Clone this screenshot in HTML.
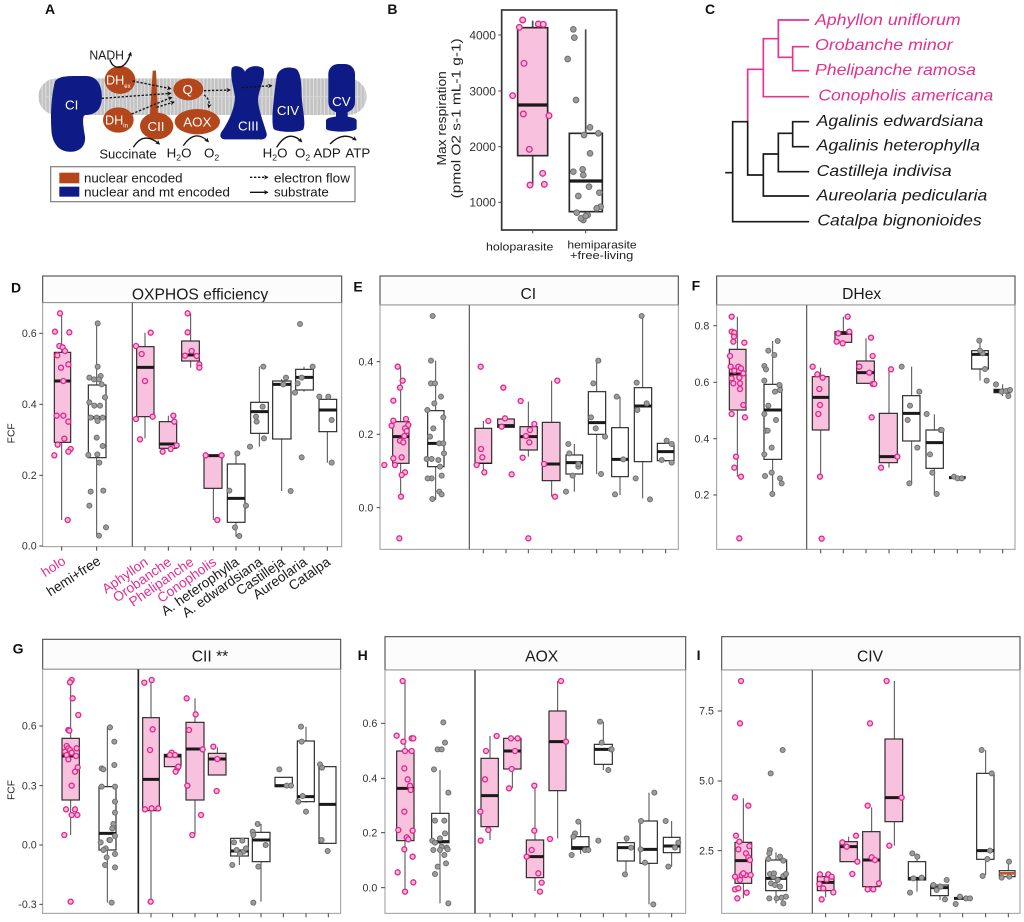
<!DOCTYPE html>
<html><head><meta charset="utf-8">
<style>
html,body{margin:0;padding:0;background:#fff;}
svg{display:block;}
text{font-family:"Liberation Sans",Arial,sans-serif;}
.wh{stroke:#4a4a4a;stroke-width:3;}
.bp{fill:#f8c1dd;stroke:#2a2a2a;stroke-width:3.5;}
.bw{fill:#fff;stroke:#2a2a2a;stroke-width:3.5;}
.md{stroke:#1a1a1a;stroke-width:9;}
.p{fill:#f7b9da;stroke:#e3268d;stroke-width:4;}
.g{fill:#9b9b9b;stroke:#6e6e6e;stroke-width:3;}
.yl{font-size:32px;fill:#333;text-anchor:end;}
.st{fill:#fcfcfc;stroke:#555;stroke-width:3.5;}
.pf{fill:#fff;stroke:#9a9a9a;stroke-width:3;}
.dv{stroke:#555;stroke-width:3.5;}
.tk{stroke:#444;stroke-width:3;}
.ttl{font-size:47px;fill:#1a1a1a;text-anchor:middle;}
.lt{font-size:42px;font-weight:bold;fill:#111;}
.xl{font-size:41px;text-anchor:end;fill:#1a1a1a;}
.pk{fill:#e2308f;}
.wt{fill:#fff;font-size:40px;text-anchor:middle;}
.at{font-size:40px;fill:#1a1a1a;}
.tp{stroke:#e8338f;stroke-width:5;fill:none;stroke-linecap:square;}
.tb{stroke:#1a1a1a;stroke-width:5;fill:none;stroke-linecap:square;}
.sp{font-size:48px;font-style:italic;}
</style></head>
<body>
<svg width="1024" height="922" viewBox="0 0 1024 922" xmlns="http://www.w3.org/2000/svg">
<defs>
<pattern id="mem" width="11" height="20" patternUnits="userSpaceOnUse">
<rect width="11" height="20" fill="#c3c3c3"/>
<line x1="5.5" y1="0" x2="5.5" y2="20" stroke="#e4e4e4" stroke-width="2.5"/>
</pattern>
<marker id="ah" viewBox="0 0 10 10" refX="8" refY="5" markerWidth="3.5" markerHeight="3.5" orient="auto"><path d="M0,0 L10,5 L0,10 L3,5 z" fill="#111"/></marker>
</defs>

<!-- ============ PANEL A ============ -->
<g transform="translate(0,0) scale(0.33333)">
<text class="lt" x="135" y="42">A</text>
<rect x="115" y="235" width="985" height="110" rx="55" fill="url(#mem)"/>
<line x1="140" y1="290" x2="1080" y2="290" stroke="#d6d6d6" stroke-width="3"/>
<path d="M165 245 C175 225,215 228,260 228 C300 230,308 270,305 300 C302 335,280 345,255 345 C245 350,250 380,255 410 C258 445,230 458,205 455 C175 452,160 430,155 400 C150 350,155 280,165 245 Z" fill="#0e1b87"/>
<text class="wt" x="215" y="328">CI</text>
<ellipse cx="360" cy="240" rx="46" ry="42" fill="#b3471b"/>
<text x="318" y="254" fill="#fff" font-size="38">DH<tspan font-size="18" dy="10">ex</tspan></text>
<ellipse cx="355" cy="360" rx="46" ry="38" fill="#b3471b"/>
<text x="315" y="373" fill="#fff" font-size="38">DH<tspan font-size="18" dy="10">in</tspan></text>
<path d="M458 212 L468 212 L474 345 L450 345 Z" fill="#b3471b"/>
<ellipse cx="470" cy="378" rx="50" ry="40" fill="#b3471b"/>
<text class="wt" x="468" y="393" font-size="36">CII</text>
<ellipse cx="565" cy="268" rx="45" ry="33" fill="#b3471b"/>
<text class="wt" x="563" y="282">Q</text>
<ellipse cx="592" cy="365" rx="68" ry="38" fill="#b3471b"/>
<text class="wt" x="592" y="379" font-size="38">AOX</text>
<path d="M695 205 C700 195,725 195,735 215 C742 200,770 192,790 205 C798 230,780 260,775 290 C772 320,785 350,800 400 C802 415,790 420,780 418 L675 418 C660 418,658 405,665 395 C690 360,705 320,705 290 C700 260,690 230,695 205 Z" fill="#0e1b87"/>
<text class="wt" x="745" y="392" font-size="38">CIII</text>
<path d="M830 230 C835 205,860 198,885 205 C900 210,905 240,905 290 C908 330,918 370,910 388 C900 398,840 398,822 388 C812 375,820 300,830 230 Z" fill="#0e1b87"/>
<text class="wt" x="864" y="345" font-size="38">CIV</text>
<rect x="985" y="192" width="80" height="145" rx="30" fill="#0e1b87"/>
<rect x="1008" y="330" width="35" height="25" fill="#0e1b87"/>
<path d="M978 362 C978 345,1070 345,1070 362 L1070 385 C1070 398,978 398,978 385 Z" fill="#0e1b87"/>
<text class="wt" x="1024" y="318" font-size="38">CV</text>
<g stroke="#111" stroke-width="4" stroke-dasharray="7 5" fill="none" marker-end="url(#ah)">
<path d="M398 243 L512 266"/>
<path d="M305 295 L512 280"/>
<path d="M395 342 L515 292"/>
<path d="M470 322 L522 306"/>
<path d="M612 272 L690 270"/>
<path d="M612 285 Q632 298 626 322"/>
<path d="M725 263 L815 257"/>
</g>
<g stroke="#111" stroke-width="4" fill="none" marker-end="url(#ah)">
<path d="M330 180 C340 212,378 212,392 158"/>
<path d="M400 442 Q430 392 478 432"/>
<path d="M550 437 Q585 385 625 425"/>
<path d="M830 442 Q865 385 905 425"/>
<path d="M990 432 Q1030 392 1068 420"/>
</g>
<text class="at" x="268" y="178" textLength="104" lengthAdjust="spacingAndGlyphs">NADH</text>
<text class="at" x="298" y="475" textLength="172" lengthAdjust="spacingAndGlyphs">Succinate</text>
<text class="at" x="500" y="472">H<tspan font-size="26" dy="10">2</tspan><tspan dy="-10">O</tspan></text>
<text class="at" x="612" y="472">O<tspan font-size="26" dy="10">2</tspan></text>
<text class="at" x="788" y="472">H<tspan font-size="26" dy="10">2</tspan><tspan dy="-10">O</tspan></text>
<text class="at" x="885" y="472">O<tspan font-size="26" dy="10">2</tspan></text>
<text class="at" x="940" y="472">ADP</text>
<text class="at" x="1036" y="472">ATP</text>
<rect x="152" y="500" width="913" height="105" fill="#fff" stroke="#8a8a8a" stroke-width="4"/>
<rect x="178" y="518" width="60" height="32" fill="#b3471b"/>
<rect x="178" y="560" width="60" height="30" fill="#0e1b87"/>
<text class="at" x="252" y="547">nuclear encoded</text>
<text class="at" x="252" y="590" textLength="438" lengthAdjust="spacingAndGlyphs">nuclear and mt encoded</text>
<line x1="750" y1="532" x2="803" y2="532" stroke="#111" stroke-width="4" stroke-dasharray="7 5" marker-end="url(#ah)"/>
<line x1="750" y1="577" x2="803" y2="577" stroke="#111" stroke-width="4" marker-end="url(#ah)"/>
<text class="at" x="822" y="547" textLength="228" lengthAdjust="spacingAndGlyphs">electron flow</text>
<text class="at" x="822" y="590">substrate</text>
</g>

<!-- ============ PANEL B ============ -->
<g transform="translate(360,0) scale(0.33333)">
<text class="lt" x="82" y="42">B</text>
<rect x="425" y="30" width="345" height="660" fill="#fff" stroke="#333" stroke-width="5"/>
<g class="tk"><line x1="415" y1="105" x2="425" y2="105"/><line x1="415" y1="273" x2="425" y2="273"/><line x1="415" y1="440" x2="425" y2="440"/><line x1="415" y1="607" x2="425" y2="607"/><line x1="518" y1="690" x2="518" y2="700"/><line x1="677" y1="690" x2="677" y2="700"/></g>
<g class="yl" style="font-size:36px"><text x="408" y="118">4000</text><text x="408" y="286">3000</text><text x="408" y="453">2000</text><text x="408" y="620">1000</text></g>
<text transform="translate(258,355) rotate(-90)" text-anchor="middle" font-size="40" fill="#222" textLength="283" lengthAdjust="spacingAndGlyphs">Max respiration</text>
<text transform="translate(302,355) rotate(-90)" text-anchor="middle" font-size="40" fill="#222" textLength="480" lengthAdjust="spacingAndGlyphs">(pmol O2 s-1 mL-1 g-1)</text>
<text x="378" y="752" font-size="34" fill="#222" textLength="202" lengthAdjust="spacingAndGlyphs">holoparasite</text>
<text x="622" y="745" font-size="34" fill="#222" textLength="208" lengthAdjust="spacingAndGlyphs">hemiparasite</text>
<text x="630" y="777" font-size="34" fill="#222" textLength="190" lengthAdjust="spacingAndGlyphs">+free-living</text>
<line class="wh" x1="518" y1="62" x2="518" y2="555" style="stroke-width:5"/>
<rect class="bp" x="473" y="83" width="90" height="384" style="stroke-width:5"/>
<line class="md" x1="473" y1="315" x2="563" y2="315" style="stroke-width:10"/>
<line class="wh" x1="677" y1="88" x2="677" y2="640" style="stroke-width:5"/>
<rect class="bw" x="628" y="400" width="99" height="235" style="stroke-width:5"/>
<line class="md" x1="628" y1="543" x2="727" y2="543" style="stroke-width:10"/>
<g class="p">
<circle cx="488" cy="60" r="8.5"/><circle cx="478" cy="82" r="8.5"/><circle cx="535" cy="72" r="8.5"/><circle cx="550" cy="73" r="8.5"/><circle cx="492" cy="190" r="8.5"/><circle cx="458" cy="287" r="8.5"/><circle cx="490" cy="342" r="8.5"/><circle cx="567" cy="347" r="8.5"/><circle cx="508" cy="448" r="8.5"/><circle cx="548" cy="520" r="8.5"/><circle cx="510" cy="555" r="8.5"/><circle cx="553" cy="553" r="8.5"/>
</g>
<g class="g">
<circle cx="640" cy="88" r="8.5"/><circle cx="643" cy="113" r="8.5"/><circle cx="623" cy="177" r="8.5"/><circle cx="648" cy="300" r="8.5"/><circle cx="690" cy="382" r="8.5"/><circle cx="672" cy="405" r="8.5"/><circle cx="715" cy="400" r="8.5"/><circle cx="690" cy="460" r="8.5"/><circle cx="640" cy="515" r="8.5"/><circle cx="668" cy="508" r="8.5"/><circle cx="670" cy="525" r="8.5"/><circle cx="655" cy="588" r="8.5"/><circle cx="687" cy="560" r="8.5"/><circle cx="718" cy="578" r="8.5"/><circle cx="722" cy="620" r="8.5"/><circle cx="710" cy="625" r="8.5"/><circle cx="650" cy="638" r="8.5"/><circle cx="683" cy="645" r="8.5"/><circle cx="670" cy="660" r="8.5"/><circle cx="663" cy="655" r="8.5"/><circle cx="677" cy="648" r="8.5"/>
</g>
</g>

<!-- ============ PANEL C ============ -->
<g transform="translate(700,0) scale(0.33333)">
<text class="lt" x="15" y="42">C</text>
<path class="tp" d="M235,60 H325 M235,60 V172 M235,172 H278 M278,140 V212 M278,140 H325 M278,212 H325 M190,116 H235 M190,116 V290 M190,290 H325 M143,208 H190 M143,208 V365"/>
<path class="tb" d="M98,365 H143 M143,365 V525 M143,525 H190 M190,462 V588 M190,588 H325 M190,462 H235 M235,400 V515 M235,515 H325 M235,400 H278 M278,365 V440 M278,365 H325 M278,440 H325 M98,365 V665 M98,665 H325 M78,518 H98"/>
<g class="sp">
<text x="345" y="75" fill="#e2308f" textLength="437" lengthAdjust="spacingAndGlyphs">Aphyllon uniflorum</text>
<text x="345" y="150" fill="#e2308f" textLength="413" lengthAdjust="spacingAndGlyphs">Orobanche minor</text>
<text x="345" y="225" fill="#e2308f" textLength="483" lengthAdjust="spacingAndGlyphs">Phelipanche ramosa</text>
<text x="355" y="302" fill="#e2308f" textLength="525" lengthAdjust="spacingAndGlyphs">Conopholis americana</text>
<text x="350" y="378" fill="#1a1a1a" textLength="500" lengthAdjust="spacingAndGlyphs">Agalinis edwardsiana</text>
<text x="350" y="452" fill="#1a1a1a" textLength="490" lengthAdjust="spacingAndGlyphs">Agalinis heterophylla</text>
<text x="350" y="528" fill="#1a1a1a" textLength="405" lengthAdjust="spacingAndGlyphs">Castilleja indivisa</text>
<text x="350" y="602" fill="#1a1a1a" textLength="512" lengthAdjust="spacingAndGlyphs">Aureolaria pedicularia</text>
<text x="352" y="677" fill="#1a1a1a" textLength="493" lengthAdjust="spacingAndGlyphs">Catalpa bignonioides</text>
</g>
</g>

<!-- ============ PANEL D ============ -->
<g transform="translate(0,270) scale(0.33333)">
<text class="lt" x="33" y="68">D</text>
<rect class="st" x="128" y="18" width="897" height="80"/>
<text class="ttl" x="600" y="88">OXPHOS efficiency</text>
<rect class="pf" x="128" y="98" width="897" height="732"/>
<line class="dv" x1="397" y1="98" x2="397" y2="830"/>
<g class="tk"><line x1="118" y1="828" x2="128" y2="828"/><line x1="118" y1="616" x2="128" y2="616"/><line x1="118" y1="403" x2="128" y2="403"/><line x1="118" y1="190" x2="128" y2="190"/>
<line x1="185" y1="830" x2="185" y2="842"/><line x1="290" y1="830" x2="290" y2="842"/><line x1="435" y1="830" x2="435" y2="842"/><line x1="505" y1="830" x2="505" y2="842"/><line x1="572" y1="830" x2="572" y2="842"/><line x1="640" y1="830" x2="640" y2="842"/><line x1="708" y1="830" x2="708" y2="842"/><line x1="778" y1="830" x2="778" y2="842"/><line x1="845" y1="830" x2="845" y2="842"/><line x1="912" y1="830" x2="912" y2="842"/><line x1="982" y1="830" x2="982" y2="842"/></g>
<g class="yl"><text x="110" y="839">0.0</text><text x="110" y="627">0.2</text><text x="110" y="414">0.4</text><text x="110" y="201">0.6</text></g>
<text transform="translate(43,490) rotate(-90)" text-anchor="middle" font-size="31" fill="#222">FCF</text>
<line class="wh" x1="185" y1="130" x2="185" y2="750"/><rect class="bp" x="163" y="247" width="49" height="270"/><line class="md" x1="163" y1="333" x2="212" y2="333"/>
<line class="wh" x1="290" y1="160" x2="290" y2="797"/><rect class="bw" x="265" y="345" width="53" height="218"/><line class="md" x1="265" y1="443" x2="318" y2="443"/>
<line class="wh" x1="435" y1="188" x2="435" y2="505"/><rect class="bp" x="410" y="230" width="52" height="210"/><line class="md" x1="410" y1="292" x2="462" y2="292"/>
<line class="wh" x1="505" y1="437" x2="505" y2="537"/><rect class="bp" x="478" y="455" width="52" height="80"/><line class="md" x1="478" y1="522" x2="530" y2="522"/>
<line class="wh" x1="572" y1="130" x2="572" y2="293"/><rect class="bp" x="545" y="213" width="53" height="60"/><line class="md" x1="545" y1="255" x2="598" y2="255"/>
<line class="wh" x1="640" y1="556" x2="640" y2="750"/><rect class="bp" x="612" y="556" width="54" height="99"/><line class="md" x1="612" y1="557" x2="666" y2="557"/>
<line class="wh" x1="708" y1="548" x2="708" y2="800"/><rect class="bw" x="682" y="582" width="53" height="175"/><line class="md" x1="682" y1="685" x2="735" y2="685"/>
<line class="wh" x1="778" y1="290" x2="778" y2="530"/><rect class="bw" x="752" y="397" width="53" height="93"/><line class="md" x1="752" y1="425" x2="805" y2="425"/>
<line class="wh" x1="845" y1="327" x2="845" y2="663"/><rect class="bw" x="818" y="333" width="55" height="174"/><line class="md" x1="818" y1="343" x2="873" y2="343"/>
<line class="wh" x1="912" y1="290" x2="912" y2="365"/><rect class="bw" x="887" y="298" width="53" height="62"/><line class="md" x1="887" y1="322" x2="940" y2="322"/>
<line class="wh" x1="982" y1="380" x2="982" y2="578"/><rect class="bw" x="957" y="388" width="53" height="97"/><line class="md" x1="957" y1="420" x2="1010" y2="420"/>
<g class="p">
<circle cx="180" cy="130" r="7.5"/><circle cx="165" cy="185" r="7.5"/><circle cx="208" cy="187" r="7.5"/><circle cx="178" cy="228" r="7.5"/><circle cx="188" cy="232" r="7.5"/><circle cx="195" cy="243" r="7.5"/><circle cx="172" cy="256" r="7.5"/><circle cx="205" cy="283" r="7.5"/><circle cx="183" cy="293" r="7.5"/><circle cx="190" cy="333" r="7.5"/><circle cx="170" cy="437" r="7.5"/><circle cx="190" cy="437" r="7.5"/><circle cx="205" cy="455" r="7.5"/><circle cx="193" cy="506" r="7.5"/><circle cx="173" cy="524" r="7.5"/><circle cx="212" cy="537" r="7.5"/><circle cx="205" cy="545" r="7.5"/><circle cx="163" cy="556" r="7.5"/><circle cx="203" cy="750" r="7.5"/>
<circle cx="408" cy="228" r="7.5"/><circle cx="452" cy="188" r="7.5"/><circle cx="425" cy="252" r="7.5"/><circle cx="435" cy="333" r="7.5"/><circle cx="408" cy="447" r="7.5"/><circle cx="458" cy="440" r="7.5"/><circle cx="420" cy="508" r="7.5"/>
<circle cx="520" cy="437" r="7.5"/><circle cx="523" cy="455" r="7.5"/><circle cx="488" cy="545" r="7.5"/><circle cx="512" cy="537" r="7.5"/><circle cx="530" cy="526" r="7.5"/>
<circle cx="563" cy="130" r="7.5"/><circle cx="563" cy="187" r="7.5"/><circle cx="575" cy="243" r="7.5"/><circle cx="590" cy="258" r="7.5"/><circle cx="598" cy="283" r="7.5"/><circle cx="598" cy="293" r="7.5"/><circle cx="555" cy="257" r="7.5"/>
<circle cx="617" cy="556" r="7.5"/><circle cx="665" cy="556" r="7.5"/><circle cx="652" cy="750" r="7.5"/>
</g>
<g class="g">
<circle cx="293" cy="160" r="7.5"/><circle cx="268" cy="323" r="7.5"/><circle cx="282" cy="328" r="7.5"/><circle cx="293" cy="290" r="7.5"/><circle cx="302" cy="318" r="7.5"/><circle cx="297" cy="328" r="7.5"/><circle cx="305" cy="343" r="7.5"/><circle cx="268" cy="397" r="7.5"/><circle cx="283" cy="407" r="7.5"/><circle cx="300" cy="407" r="7.5"/><circle cx="272" cy="443" r="7.5"/><circle cx="290" cy="443" r="7.5"/><circle cx="308" cy="443" r="7.5"/><circle cx="315" cy="382" r="7.5"/><circle cx="293" cy="453" r="7.5"/><circle cx="290" cy="503" r="7.5"/><circle cx="308" cy="528" r="7.5"/><circle cx="265" cy="555" r="7.5"/><circle cx="292" cy="553" r="7.5"/><circle cx="298" cy="578" r="7.5"/><circle cx="272" cy="665" r="7.5"/><circle cx="310" cy="662" r="7.5"/><circle cx="268" cy="707" r="7.5"/><circle cx="318" cy="772" r="7.5"/><circle cx="297" cy="797" r="7.5"/>
<circle cx="688" cy="662" r="7.5"/><circle cx="712" cy="550" r="7.5"/><circle cx="738" cy="707" r="7.5"/><circle cx="705" cy="772" r="7.5"/><circle cx="718" cy="798" r="7.5"/>
<circle cx="790" cy="290" r="7.5"/><circle cx="768" cy="440" r="7.5"/><circle cx="770" cy="455" r="7.5"/><circle cx="792" cy="505" r="7.5"/><circle cx="750" cy="530" r="7.5"/><circle cx="788" cy="410" r="7.5"/>
<circle cx="850" cy="343" r="7.5"/><circle cx="858" cy="323" r="7.5"/><circle cx="872" cy="663" r="7.5"/>
<circle cx="900" cy="162" r="7.5"/><circle cx="893" cy="340" r="7.5"/><circle cx="905" cy="323" r="7.5"/><circle cx="938" cy="290" r="7.5"/><circle cx="905" cy="562" r="7.5"/><circle cx="885" cy="368" r="7.5"/>
<circle cx="985" cy="380" r="7.5"/><circle cx="995" cy="450" r="7.5"/><circle cx="958" cy="380" r="7.5"/><circle cx="995" cy="578" r="7.5"/>
</g>
<text class="xl pk" transform="translate(200,880) rotate(-33)">holo</text>
<text class="xl" transform="translate(305,880) rotate(-33)">hemi+free</text>
<text class="xl pk" transform="translate(447,882) rotate(-35)">Aphyllon</text>
<text class="xl pk" transform="translate(517,882) rotate(-35)">Orobanche</text>
<text class="xl pk" transform="translate(584,882) rotate(-35)">Phelipanche</text>
<text class="xl pk" transform="translate(652,882) rotate(-35)">Conopholis</text>
<text class="xl" transform="translate(720,882) rotate(-35)">A. heterophylla</text>
<text class="xl" transform="translate(790,882) rotate(-35)">A. edwardsiana</text>
<text class="xl" transform="translate(857,882) rotate(-35)">Castilleja</text>
<text class="xl" transform="translate(924,882) rotate(-35)">Aureolaria</text>
<text class="xl" transform="translate(994,882) rotate(-35)">Catalpa</text>
</g>

<!-- ============ PANEL E ============ -->
<g transform="translate(345,270) scale(0.33333)">
<text class="lt" x="25" y="65">E</text>
<rect class="st" x="105" y="18" width="895" height="87"/>
<text class="ttl" x="550" y="87">CI</text>
<rect class="pf" x="105" y="105" width="895" height="733"/>
<line class="dv" x1="373" y1="105" x2="373" y2="838"/>
<g class="tk"><line x1="95" y1="275" x2="105" y2="275"/><line x1="95" y1="493" x2="105" y2="493"/><line x1="95" y1="713" x2="105" y2="713"/>
<line x1="415" y1="838" x2="415" y2="850"/><line x1="483" y1="838" x2="483" y2="850"/><line x1="550" y1="838" x2="550" y2="850"/><line x1="620" y1="838" x2="620" y2="850"/><line x1="688" y1="838" x2="688" y2="850"/><line x1="755" y1="838" x2="755" y2="850"/><line x1="825" y1="838" x2="825" y2="850"/><line x1="893" y1="838" x2="893" y2="850"/><line x1="962" y1="838" x2="962" y2="850"/></g>
<g class="yl"><text x="85" y="286">0.4</text><text x="85" y="504">0.2</text><text x="85" y="724">0.0</text></g>
<line class="wh" x1="167" y1="290" x2="167" y2="680"/><rect class="bp" x="143" y="455" width="49" height="125"/><line class="md" x1="143" y1="500" x2="192" y2="500"/>
<line class="wh" x1="272" y1="272" x2="272" y2="690"/><rect class="bw" x="248" y="422" width="49" height="168"/><line class="md" x1="248" y1="520" x2="297" y2="520"/>
<line class="wh" x1="415" y1="453" x2="415" y2="607"/><rect class="bp" x="390" y="475" width="50" height="105"/><line class="md" x1="390" y1="580" x2="440" y2="580" style="stroke-width:4"/>
<line class="wh" x1="483" y1="445" x2="483" y2="470"/><rect class="bp" x="458" y="447" width="50" height="25"/><line class="md" x1="458" y1="467" x2="508" y2="467"/>
<line class="wh" x1="550" y1="395" x2="550" y2="560"/><rect class="bp" x="525" y="470" width="52" height="70"/><line class="md" x1="525" y1="500" x2="577" y2="500"/>
<line class="wh" x1="620" y1="332" x2="620" y2="680"/><rect class="bp" x="592" y="457" width="53" height="175"/><line class="md" x1="592" y1="582" x2="645" y2="582"/>
<line class="wh" x1="688" y1="522" x2="688" y2="665"/><rect class="bw" x="663" y="555" width="50" height="57"/><line class="md" x1="663" y1="578" x2="713" y2="578"/>
<line class="wh" x1="755" y1="272" x2="755" y2="612"/><rect class="bw" x="730" y="365" width="52" height="128"/><line class="md" x1="730" y1="458" x2="782" y2="458"/>
<line class="wh" x1="825" y1="380" x2="825" y2="675"/><rect class="bw" x="800" y="473" width="50" height="147"/><line class="md" x1="800" y1="568" x2="850" y2="568"/>
<line class="wh" x1="893" y1="138" x2="893" y2="685"/><rect class="bw" x="868" y="353" width="52" height="222"/><line class="md" x1="868" y1="408" x2="920" y2="408"/>
<line class="wh" x1="962" y1="512" x2="962" y2="575"/><rect class="bw" x="937" y="520" width="50" height="52"/><line class="md" x1="937" y1="545" x2="987" y2="545"/>
<g class="p">
<circle cx="158" cy="290" r="7.5"/><circle cx="173" cy="332" r="7.5"/><circle cx="165" cy="353" r="7.5"/><circle cx="145" cy="392" r="7.5"/><circle cx="145" cy="452" r="7.5"/><circle cx="140" cy="467" r="7.5"/><circle cx="183" cy="447" r="7.5"/><circle cx="190" cy="465" r="7.5"/><circle cx="180" cy="475" r="7.5"/><circle cx="185" cy="483" r="7.5"/><circle cx="178" cy="498" r="7.5"/><circle cx="165" cy="512" r="7.5"/><circle cx="175" cy="517" r="7.5"/><circle cx="145" cy="565" r="7.5"/><circle cx="150" cy="585" r="7.5"/><circle cx="170" cy="562" r="7.5"/><circle cx="180" cy="607" r="7.5"/><circle cx="170" cy="615" r="7.5"/><circle cx="168" cy="680" r="7.5"/><circle cx="163" cy="805" r="7.5"/><circle cx="118" cy="585" r="7.5"/>
<circle cx="407" cy="290" r="7.5"/><circle cx="430" cy="453" r="7.5"/><circle cx="408" cy="537" r="7.5"/><circle cx="412" cy="562" r="7.5"/><circle cx="418" cy="607" r="7.5"/><circle cx="395" cy="585" r="7.5"/>
<circle cx="475" cy="353" r="7.5"/><circle cx="480" cy="445" r="7.5"/><circle cx="470" cy="470" r="7.5"/><circle cx="500" cy="613" r="7.5"/>
<circle cx="527" cy="393" r="7.5"/><circle cx="543" cy="498" r="7.5"/><circle cx="555" cy="480" r="7.5"/><circle cx="553" cy="517" r="7.5"/><circle cx="568" cy="462" r="7.5"/><circle cx="533" cy="563" r="7.5"/><circle cx="550" cy="805" r="7.5"/>
<circle cx="597" cy="582" r="7.5"/><circle cx="637" cy="332" r="7.5"/><circle cx="630" cy="680" r="7.5"/>
</g>
<g class="g">
<circle cx="263" cy="138" r="7.5"/><circle cx="258" cy="272" r="7.5"/><circle cx="258" cy="340" r="7.5"/><circle cx="270" cy="340" r="7.5"/><circle cx="288" cy="380" r="7.5"/><circle cx="268" cy="400" r="7.5"/><circle cx="247" cy="420" r="7.5"/><circle cx="295" cy="442" r="7.5"/><circle cx="265" cy="475" r="7.5"/><circle cx="255" cy="500" r="7.5"/><circle cx="283" cy="520" r="7.5"/><circle cx="295" cy="520" r="7.5"/><circle cx="245" cy="567" r="7.5"/><circle cx="260" cy="567" r="7.5"/><circle cx="280" cy="570" r="7.5"/><circle cx="297" cy="550" r="7.5"/><circle cx="285" cy="590" r="7.5"/><circle cx="260" cy="625" r="7.5"/><circle cx="248" cy="625" r="7.5"/><circle cx="290" cy="617" r="7.5"/><circle cx="283" cy="665" r="7.5"/><circle cx="290" cy="673" r="7.5"/><circle cx="262" cy="687" r="7.5"/>
<circle cx="670" cy="522" r="7.5"/><circle cx="673" cy="550" r="7.5"/><circle cx="700" cy="590" r="7.5"/><circle cx="683" cy="617" r="7.5"/><circle cx="663" cy="665" r="7.5"/><circle cx="700" cy="582" r="7.5"/>
<circle cx="760" cy="272" r="7.5"/><circle cx="745" cy="340" r="7.5"/><circle cx="738" cy="442" r="7.5"/><circle cx="752" cy="475" r="7.5"/><circle cx="780" cy="500" r="7.5"/><circle cx="768" cy="612" r="7.5"/>
<circle cx="815" cy="380" r="7.5"/><circle cx="835" cy="568" r="7.5"/><circle cx="810" cy="673" r="7.5"/>
<circle cx="890" cy="138" r="7.5"/><circle cx="875" cy="338" r="7.5"/><circle cx="877" cy="420" r="7.5"/><circle cx="905" cy="400" r="7.5"/><circle cx="872" cy="625" r="7.5"/><circle cx="915" cy="688" r="7.5"/>
<circle cx="965" cy="512" r="7.5"/><circle cx="980" cy="522" r="7.5"/><circle cx="950" cy="570" r="7.5"/><circle cx="980" cy="578" r="7.5"/>
</g>
</g>

<!-- ============ PANEL F ============ -->
<g transform="translate(680,270) scale(0.33333)">
<text class="lt" x="35" y="62">F</text>
<rect class="st" x="110" y="18" width="895" height="87"/>
<text class="ttl" x="545" y="87">DHex</text>
<rect class="pf" x="110" y="105" width="895" height="733"/>
<line class="dv" x1="380" y1="105" x2="380" y2="838"/>
<g class="tk"><line x1="100" y1="167" x2="110" y2="167"/><line x1="100" y1="337" x2="110" y2="337"/><line x1="100" y1="506" x2="110" y2="506"/><line x1="100" y1="675" x2="110" y2="675"/>
<line x1="422" y1="838" x2="422" y2="850"/><line x1="490" y1="838" x2="490" y2="850"/><line x1="558" y1="838" x2="558" y2="850"/><line x1="627" y1="838" x2="627" y2="850"/><line x1="695" y1="838" x2="695" y2="850"/><line x1="763" y1="838" x2="763" y2="850"/><line x1="832" y1="838" x2="832" y2="850"/><line x1="900" y1="838" x2="900" y2="850"/><line x1="968" y1="838" x2="968" y2="850"/></g>
<g class="yl"><text x="88" y="178">0.8</text><text x="88" y="348">0.6</text><text x="88" y="517">0.4</text><text x="88" y="686">0.2</text></g>
<line class="wh" x1="172" y1="140" x2="172" y2="620"/><rect class="bp" x="148" y="238" width="50" height="182"/><line class="md" x1="148" y1="312" x2="198" y2="312"/>
<line class="wh" x1="278" y1="213" x2="278" y2="672"/><rect class="bw" x="252" y="343" width="53" height="225"/><line class="md" x1="252" y1="420" x2="305" y2="420"/>
<line class="wh" x1="422" y1="293" x2="422" y2="620"/><rect class="bp" x="397" y="320" width="50" height="160"/><line class="md" x1="397" y1="382" x2="447" y2="382"/>
<line class="wh" x1="490" y1="140" x2="490" y2="217"/><rect class="bp" x="465" y="185" width="50" height="32"/><line class="md" x1="465" y1="190" x2="515" y2="190"/>
<line class="wh" x1="558" y1="205" x2="558" y2="340"/><rect class="bp" x="530" y="273" width="53" height="67"/><line class="md" x1="530" y1="308" x2="583" y2="308"/>
<line class="wh" x1="627" y1="298" x2="627" y2="593"/><rect class="bp" x="598" y="430" width="54" height="148"/><line class="md" x1="598" y1="560" x2="652" y2="560"/>
<line class="wh" x1="695" y1="290" x2="695" y2="640"/><rect class="bw" x="668" y="377" width="52" height="136"/><line class="md" x1="668" y1="430" x2="720" y2="430"/>
<line class="wh" x1="763" y1="433" x2="763" y2="672"/><rect class="bw" x="738" y="480" width="52" height="115"/><line class="md" x1="738" y1="518" x2="790" y2="518"/>
<line class="md" x1="807" y1="623" x2="857" y2="623"/>
<line class="wh" x1="900" y1="210" x2="900" y2="332"/><rect class="bw" x="875" y="242" width="50" height="55"/><line class="md" x1="875" y1="253" x2="925" y2="253"/>
<line class="wh" x1="968" y1="343" x2="968" y2="378"/><rect class="bw" x="942" y="358" width="50" height="10"/><line class="md" x1="942" y1="363" x2="992" y2="363"/>
<g class="p">
<circle cx="155" cy="140" r="7.5"/><circle cx="155" cy="185" r="7.5"/><circle cx="163" cy="188" r="7.5"/><circle cx="162" cy="200" r="7.5"/><circle cx="160" cy="215" r="7.5"/><circle cx="193" cy="218" r="7.5"/><circle cx="150" cy="258" r="7.5"/><circle cx="152" cy="290" r="7.5"/><circle cx="175" cy="290" r="7.5"/><circle cx="183" cy="295" r="7.5"/><circle cx="190" cy="310" r="7.5"/><circle cx="163" cy="302" r="7.5"/><circle cx="178" cy="323" r="7.5"/><circle cx="155" cy="325" r="7.5"/><circle cx="160" cy="340" r="7.5"/><circle cx="180" cy="340" r="7.5"/><circle cx="180" cy="357" r="7.5"/><circle cx="190" cy="405" r="7.5"/><circle cx="155" cy="432" r="7.5"/><circle cx="195" cy="442" r="7.5"/><circle cx="168" cy="560" r="7.5"/><circle cx="163" cy="593" r="7.5"/><circle cx="183" cy="620" r="7.5"/><circle cx="178" cy="805" r="7.5"/>
<circle cx="398" cy="290" r="7.5"/><circle cx="412" cy="313" r="7.5"/><circle cx="428" cy="323" r="7.5"/><circle cx="418" cy="357" r="7.5"/><circle cx="420" cy="405" r="7.5"/><circle cx="415" cy="432" r="7.5"/><circle cx="420" cy="620" r="7.5"/><circle cx="425" cy="806" r="7.5"/>
<circle cx="503" cy="140" r="7.5"/><circle cx="475" cy="190" r="7.5"/><circle cx="508" cy="185" r="7.5"/><circle cx="470" cy="215" r="7.5"/><circle cx="488" cy="220" r="7.5"/>
<circle cx="573" cy="203" r="7.5"/><circle cx="538" cy="290" r="7.5"/><circle cx="578" cy="258" r="7.5"/><circle cx="568" cy="308" r="7.5"/><circle cx="578" cy="342" r="7.5"/><circle cx="583" cy="342" r="7.5"/><circle cx="575" cy="442" r="7.5"/>
<circle cx="603" cy="593" r="7.5"/><circle cx="633" cy="298" r="7.5"/><circle cx="652" cy="560" r="7.5"/>
</g>
<g class="g">
<circle cx="293" cy="213" r="7.5"/><circle cx="265" cy="242" r="7.5"/><circle cx="283" cy="255" r="7.5"/><circle cx="253" cy="288" r="7.5"/><circle cx="258" cy="298" r="7.5"/><circle cx="253" cy="332" r="7.5"/><circle cx="298" cy="345" r="7.5"/><circle cx="300" cy="360" r="7.5"/><circle cx="285" cy="365" r="7.5"/><circle cx="265" cy="407" r="7.5"/><circle cx="253" cy="432" r="7.5"/><circle cx="288" cy="450" r="7.5"/><circle cx="258" cy="482" r="7.5"/><circle cx="263" cy="482" r="7.5"/><circle cx="275" cy="533" r="7.5"/><circle cx="253" cy="553" r="7.5"/><circle cx="275" cy="608" r="7.5"/><circle cx="255" cy="618" r="7.5"/><circle cx="300" cy="625" r="7.5"/><circle cx="305" cy="640" r="7.5"/><circle cx="277" cy="672" r="7.5"/>
<circle cx="665" cy="290" r="7.5"/><circle cx="690" cy="407" r="7.5"/><circle cx="683" cy="450" r="7.5"/><circle cx="718" cy="365" r="7.5"/><circle cx="712" cy="533" r="7.5"/><circle cx="688" cy="640" r="7.5"/>
<circle cx="740" cy="432" r="7.5"/><circle cx="782" cy="480" r="7.5"/><circle cx="750" cy="553" r="7.5"/><circle cx="757" cy="608" r="7.5"/><circle cx="770" cy="672" r="7.5"/><circle cx="785" cy="480" r="7.5"/>
<circle cx="822" cy="620" r="7.5"/><circle cx="833" cy="625" r="7.5"/><circle cx="845" cy="625" r="7.5"/>
<circle cx="898" cy="212" r="7.5"/><circle cx="908" cy="250" r="7.5"/><circle cx="915" cy="297" r="7.5"/><circle cx="920" cy="332" r="7.5"/><circle cx="900" cy="242" r="7.5"/>
<circle cx="948" cy="343" r="7.5"/><circle cx="965" cy="365" r="7.5"/><circle cx="978" cy="363" r="7.5"/><circle cx="985" cy="378" r="7.5"/><circle cx="990" cy="360" r="7.5"/>
</g>
</g>

<!-- ============ PANEL G ============ -->
<g transform="translate(0,620) scale(0.33333)">
<text class="lt" x="38" y="100">G</text>
<rect class="st" x="128" y="58" width="894" height="90"/>
<text class="ttl" x="630" y="125">CII **</text>
<rect class="pf" x="128" y="148" width="894" height="732"/>
<line x1="415" y1="148" x2="415" y2="880" stroke="#222" stroke-width="5"/>
<g class="tk"><line x1="118" y1="318" x2="128" y2="318"/><line x1="118" y1="497" x2="128" y2="497"/><line x1="118" y1="675" x2="128" y2="675"/><line x1="118" y1="853" x2="128" y2="853"/>
<line x1="453" y1="880" x2="453" y2="892"/><line x1="518" y1="880" x2="518" y2="892"/><line x1="585" y1="880" x2="585" y2="892"/><line x1="652" y1="880" x2="652" y2="892"/><line x1="718" y1="880" x2="718" y2="892"/><line x1="783" y1="880" x2="783" y2="892"/><line x1="850" y1="880" x2="850" y2="892"/><line x1="918" y1="880" x2="918" y2="892"/><line x1="985" y1="880" x2="985" y2="892"/></g>
<g class="yl"><text x="110" y="329">0.6</text><text x="110" y="508">0.3</text><text x="110" y="686">0.0</text><text x="110" y="864">-0.3</text></g>
<text transform="translate(43,510) rotate(-90)" text-anchor="middle" font-size="31" fill="#222">FCF</text>
<line class="wh" x1="212" y1="185" x2="212" y2="645"/><rect class="bp" x="186" y="355" width="52" height="185"/><line class="md" x1="186" y1="408" x2="238" y2="408"/>
<line class="wh" x1="322" y1="320" x2="322" y2="848"/><rect class="bw" x="297" y="500" width="51" height="190"/><line class="md" x1="297" y1="640" x2="348" y2="640"/>
<line class="wh" x1="453" y1="180" x2="453" y2="845"/><rect class="bp" x="428" y="293" width="50" height="279"/><line class="md" x1="428" y1="478" x2="478" y2="478"/>
<line class="wh" x1="518" y1="393" x2="518" y2="440"/><rect class="bp" x="493" y="403" width="50" height="37"/><line class="md" x1="493" y1="408" x2="543" y2="408"/>
<line class="wh" x1="585" y1="235" x2="585" y2="645"/><rect class="bp" x="558" y="307" width="54" height="233"/><line class="md" x1="558" y1="387" x2="612" y2="387"/>
<line class="wh" x1="652" y1="382" x2="652" y2="465"/><rect class="bp" x="625" y="400" width="53" height="65"/><line class="md" x1="625" y1="417" x2="678" y2="417"/>
<line class="wh" x1="718" y1="655" x2="718" y2="735"/><rect class="bw" x="692" y="655" width="53" height="53"/><line class="md" x1="692" y1="693" x2="745" y2="693"/>
<line class="wh" x1="783" y1="612" x2="783" y2="845"/><rect class="bw" x="757" y="637" width="53" height="88"/><line class="md" x1="757" y1="660" x2="810" y2="660"/>
<line class="wh" x1="850" y1="472" x2="850" y2="500"/><rect class="bw" x="825" y="472" width="52" height="28"/><line class="md" x1="825" y1="497" x2="877" y2="497"/>
<line class="wh" x1="918" y1="320" x2="918" y2="548"/><rect class="bw" x="892" y="363" width="51" height="182"/><line class="md" x1="892" y1="530" x2="943" y2="530"/>
<line class="wh" x1="985" y1="440" x2="985" y2="670"/><rect class="bw" x="957" y="440" width="51" height="230"/><line class="md" x1="957" y1="553" x2="1008" y2="553"/>
<g class="p">
<circle cx="215" cy="180" r="7.5"/><circle cx="210" cy="187" r="7.5"/><circle cx="218" cy="235" r="7.5"/><circle cx="235" cy="285" r="7.5"/><circle cx="205" cy="330" r="7.5"/><circle cx="208" cy="332" r="7.5"/><circle cx="200" cy="378" r="7.5"/><circle cx="205" cy="385" r="7.5"/><circle cx="210" cy="390" r="7.5"/><circle cx="230" cy="385" r="7.5"/><circle cx="215" cy="398" r="7.5"/><circle cx="195" cy="395" r="7.5"/><circle cx="200" cy="405" r="7.5"/><circle cx="205" cy="418" r="7.5"/><circle cx="228" cy="408" r="7.5"/><circle cx="233" cy="442" r="7.5"/><circle cx="225" cy="455" r="7.5"/><circle cx="215" cy="497" r="7.5"/><circle cx="198" cy="568" r="7.5"/><circle cx="225" cy="568" r="7.5"/><circle cx="215" cy="585" r="7.5"/><circle cx="232" cy="585" r="7.5"/><circle cx="193" cy="645" r="7.5"/><circle cx="212" cy="845" r="7.5"/>
<circle cx="433" cy="188" r="7.5"/><circle cx="455" cy="180" r="7.5"/><circle cx="458" cy="328" r="7.5"/><circle cx="450" cy="390" r="7.5"/><circle cx="435" cy="568" r="7.5"/><circle cx="455" cy="565" r="7.5"/><circle cx="475" cy="565" r="7.5"/><circle cx="452" cy="845" r="7.5"/>
<circle cx="515" cy="398" r="7.5"/><circle cx="525" cy="405" r="7.5"/><circle cx="532" cy="445" r="7.5"/><circle cx="527" cy="455" r="7.5"/><circle cx="535" cy="440" r="7.5"/><circle cx="510" cy="405" r="7.5"/>
<circle cx="560" cy="235" r="7.5"/><circle cx="567" cy="330" r="7.5"/><circle cx="587" cy="283" r="7.5"/><circle cx="608" cy="388" r="7.5"/><circle cx="562" cy="497" r="7.5"/><circle cx="603" cy="585" r="7.5"/><circle cx="577" cy="645" r="7.5"/>
<circle cx="640" cy="380" r="7.5"/><circle cx="652" cy="417" r="7.5"/><circle cx="650" cy="513" r="7.5"/>
</g>
<g class="g">
<circle cx="330" cy="322" r="7.5"/><circle cx="343" cy="365" r="7.5"/><circle cx="305" cy="445" r="7.5"/><circle cx="310" cy="448" r="7.5"/><circle cx="343" cy="435" r="7.5"/><circle cx="305" cy="500" r="7.5"/><circle cx="345" cy="500" r="7.5"/><circle cx="345" cy="545" r="7.5"/><circle cx="345" cy="578" r="7.5"/><circle cx="340" cy="612" r="7.5"/><circle cx="337" cy="625" r="7.5"/><circle cx="345" cy="648" r="7.5"/><circle cx="302" cy="667" r="7.5"/><circle cx="328" cy="660" r="7.5"/><circle cx="317" cy="685" r="7.5"/><circle cx="310" cy="690" r="7.5"/><circle cx="320" cy="712" r="7.5"/><circle cx="345" cy="702" r="7.5"/><circle cx="315" cy="735" r="7.5"/><circle cx="345" cy="742" r="7.5"/><circle cx="335" cy="848" r="7.5"/><circle cx="330" cy="660" r="7.5"/>
<circle cx="697" cy="735" r="7.5"/><circle cx="702" cy="667" r="7.5"/><circle cx="727" cy="662" r="7.5"/><circle cx="730" cy="695" r="7.5"/><circle cx="738" cy="685" r="7.5"/><circle cx="720" cy="702" r="7.5"/><circle cx="710" cy="690" r="7.5"/>
<circle cx="773" cy="612" r="7.5"/><circle cx="758" cy="635" r="7.5"/><circle cx="760" cy="645" r="7.5"/><circle cx="797" cy="675" r="7.5"/><circle cx="775" cy="740" r="7.5"/><circle cx="760" cy="848" r="7.5"/>
<circle cx="838" cy="448" r="7.5"/><circle cx="860" cy="497" r="7.5"/><circle cx="873" cy="497" r="7.5"/>
<circle cx="903" cy="320" r="7.5"/><circle cx="905" cy="365" r="7.5"/><circle cx="908" cy="528" r="7.5"/><circle cx="895" cy="545" r="7.5"/><circle cx="918" cy="575" r="7.5"/>
<circle cx="960" cy="433" r="7.5"/><circle cx="966" cy="443" r="7.5"/><circle cx="965" cy="660" r="7.5"/><circle cx="983" cy="693" r="7.5"/>
</g>
</g>

<!-- ============ PANEL H ============ -->
<g transform="translate(345,620) scale(0.33333)">
<text class="lt" x="38" y="120">H</text>
<rect class="st" x="120" y="50" width="902" height="100"/>
<text class="ttl" x="590" y="125">AOX</text>
<rect class="pf" x="120" y="150" width="902" height="730"/>
<line x1="390" y1="150" x2="390" y2="880" stroke="#333" stroke-width="4"/>
<g class="tk"><line x1="108" y1="310" x2="120" y2="310"/><line x1="108" y1="475" x2="120" y2="475"/><line x1="108" y1="638" x2="120" y2="638"/><line x1="108" y1="803" x2="120" y2="803"/>
<line x1="435" y1="880" x2="435" y2="892"/><line x1="502" y1="880" x2="502" y2="892"/><line x1="570" y1="880" x2="570" y2="892"/><line x1="638" y1="880" x2="638" y2="892"/><line x1="707" y1="880" x2="707" y2="892"/><line x1="775" y1="880" x2="775" y2="892"/><line x1="843" y1="880" x2="843" y2="892"/><line x1="912" y1="880" x2="912" y2="892"/><line x1="980" y1="880" x2="980" y2="892"/></g>
<g class="yl"><text x="97" y="321">0.6</text><text x="97" y="486">0.4</text><text x="97" y="649">0.2</text><text x="97" y="814">0.0</text></g>
<line class="wh" x1="180" y1="183" x2="180" y2="810"/><rect class="bp" x="155" y="393" width="52" height="269"/><line class="md" x1="155" y1="505" x2="207" y2="505"/>
<line class="wh" x1="285" y1="450" x2="285" y2="850"/><rect class="bw" x="260" y="580" width="52" height="88"/><line class="md" x1="260" y1="665" x2="312" y2="665"/>
<line class="wh" x1="435" y1="348" x2="435" y2="660"/><rect class="bp" x="408" y="415" width="52" height="205"/><line class="md" x1="408" y1="527" x2="460" y2="527"/>
<line class="wh" x1="502" y1="355" x2="502" y2="505"/><rect class="bp" x="476" y="355" width="52" height="92"/><line class="md" x1="476" y1="393" x2="528" y2="393"/>
<line class="wh" x1="570" y1="498" x2="570" y2="813"/><rect class="bp" x="544" y="660" width="52" height="113"/><line class="md" x1="544" y1="710" x2="596" y2="710"/>
<line class="wh" x1="638" y1="183" x2="638" y2="655"/><rect class="bp" x="612" y="273" width="51" height="239"/><line class="md" x1="612" y1="365" x2="663" y2="365"/>
<line class="wh" x1="707" y1="605" x2="707" y2="702"/><rect class="bw" x="680" y="650" width="52" height="38"/><line class="md" x1="680" y1="683" x2="732" y2="683"/>
<line class="wh" x1="775" y1="305" x2="775" y2="450"/><rect class="bw" x="748" y="373" width="54" height="60"/><line class="md" x1="748" y1="388" x2="802" y2="388"/>
<line class="wh" x1="843" y1="650" x2="843" y2="763"/><rect class="bw" x="817" y="668" width="51" height="55"/><line class="md" x1="817" y1="683" x2="868" y2="683"/>
<line class="wh" x1="912" y1="518" x2="912" y2="853"/><rect class="bw" x="885" y="603" width="52" height="127"/><line class="md" x1="885" y1="688" x2="937" y2="688"/>
<line class="wh" x1="980" y1="603" x2="980" y2="740"/><rect class="bw" x="955" y="652" width="50" height="46"/><line class="md" x1="955" y1="678" x2="1005" y2="678"/>
<g class="p">
<circle cx="173" cy="183" r="7.5"/><circle cx="155" cy="347" r="7.5"/><circle cx="175" cy="365" r="7.5"/><circle cx="180" cy="393" r="7.5"/><circle cx="200" cy="393" r="7.5"/><circle cx="200" cy="355" r="7.5"/><circle cx="205" cy="355" r="7.5"/><circle cx="178" cy="445" r="7.5"/><circle cx="188" cy="478" r="7.5"/><circle cx="195" cy="497" r="7.5"/><circle cx="178" cy="575" r="7.5"/><circle cx="197" cy="510" r="7.5"/><circle cx="160" cy="630" r="7.5"/><circle cx="185" cy="652" r="7.5"/><circle cx="190" cy="658" r="7.5"/><circle cx="203" cy="632" r="7.5"/><circle cx="178" cy="688" r="7.5"/><circle cx="203" cy="710" r="7.5"/><circle cx="158" cy="757" r="7.5"/><circle cx="205" cy="787" r="7.5"/><circle cx="180" cy="815" r="7.5"/>
<circle cx="423" cy="393" r="7.5"/><circle cx="420" cy="478" r="7.5"/><circle cx="430" cy="630" r="7.5"/><circle cx="406" cy="575" r="7.5"/><circle cx="407" cy="662" r="7.5"/><circle cx="455" cy="348" r="7.5"/>
<circle cx="498" cy="355" r="7.5"/><circle cx="518" cy="355" r="7.5"/><circle cx="510" cy="393" r="7.5"/><circle cx="500" cy="447" r="7.5"/><circle cx="492" cy="505" r="7.5"/>
<circle cx="568" cy="497" r="7.5"/><circle cx="568" cy="632" r="7.5"/><circle cx="560" cy="690" r="7.5"/><circle cx="545" cy="710" r="7.5"/><circle cx="580" cy="760" r="7.5"/><circle cx="590" cy="788" r="7.5"/><circle cx="585" cy="815" r="7.5"/>
<circle cx="648" cy="183" r="7.5"/><circle cx="663" cy="365" r="7.5"/><circle cx="615" cy="657" r="7.5"/>
</g>
<g class="g">
<circle cx="295" cy="307" r="7.5"/><circle cx="300" cy="368" r="7.5"/><circle cx="278" cy="388" r="7.5"/><circle cx="290" cy="388" r="7.5"/><circle cx="267" cy="448" r="7.5"/><circle cx="270" cy="602" r="7.5"/><circle cx="298" cy="602" r="7.5"/><circle cx="310" cy="518" r="7.5"/><circle cx="300" cy="640" r="7.5"/><circle cx="262" cy="662" r="7.5"/><circle cx="270" cy="668" r="7.5"/><circle cx="285" cy="655" r="7.5"/><circle cx="290" cy="680" r="7.5"/><circle cx="305" cy="683" r="7.5"/><circle cx="308" cy="688" r="7.5"/><circle cx="285" cy="690" r="7.5"/><circle cx="298" cy="705" r="7.5"/><circle cx="303" cy="730" r="7.5"/><circle cx="278" cy="740" r="7.5"/><circle cx="270" cy="762" r="7.5"/><circle cx="310" cy="850" r="7.5"/><circle cx="265" cy="690" r="7.5"/>
<circle cx="700" cy="605" r="7.5"/><circle cx="690" cy="640" r="7.5"/><circle cx="685" cy="650" r="7.5"/><circle cx="680" cy="705" r="7.5"/><circle cx="720" cy="690" r="7.5"/><circle cx="730" cy="690" r="7.5"/>
<circle cx="765" cy="305" r="7.5"/><circle cx="770" cy="368" r="7.5"/><circle cx="790" cy="450" r="7.5"/><circle cx="798" cy="388" r="7.5"/><circle cx="760" cy="662" r="7.5"/><circle cx="800" cy="388" r="7.5"/>
<circle cx="845" cy="655" r="7.5"/><circle cx="840" cy="763" r="7.5"/><circle cx="858" cy="683" r="7.5"/>
<circle cx="928" cy="518" r="7.5"/><circle cx="888" cy="603" r="7.5"/><circle cx="900" cy="728" r="7.5"/><circle cx="925" cy="853" r="7.5"/><circle cx="887" cy="688" r="7.5"/>
<circle cx="962" cy="603" r="7.5"/><circle cx="970" cy="740" r="7.5"/><circle cx="990" cy="683" r="7.5"/><circle cx="1000" cy="668" r="7.5"/>
</g>
</g>

<!-- ============ PANEL I ============ -->
<g transform="translate(680,620) scale(0.33333)">
<text class="lt" x="50" y="120">I</text>
<rect class="st" x="125" y="50" width="895" height="100"/>
<text class="ttl" x="570" y="125">CIV</text>
<rect class="pf" x="125" y="150" width="895" height="730"/>
<line class="dv" x1="397" y1="150" x2="397" y2="880"/>
<g class="tk"><line x1="113" y1="273" x2="125" y2="273"/><line x1="113" y1="483" x2="125" y2="483"/><line x1="113" y1="692" x2="125" y2="692"/>
<line x1="437" y1="880" x2="437" y2="892"/><line x1="506" y1="880" x2="506" y2="892"/><line x1="575" y1="880" x2="575" y2="892"/><line x1="643" y1="880" x2="643" y2="892"/><line x1="711" y1="880" x2="711" y2="892"/><line x1="780" y1="880" x2="780" y2="892"/><line x1="848" y1="880" x2="848" y2="892"/><line x1="917" y1="880" x2="917" y2="892"/><line x1="985" y1="880" x2="985" y2="892"/></g>
<g class="yl"><text x="102" y="284">7.5</text><text x="102" y="494">5.0</text><text x="102" y="703">2.5</text></g>
<line class="wh" x1="190" y1="535" x2="190" y2="835"/><rect class="bp" x="165" y="667" width="50" height="123"/><line class="md" x1="165" y1="722" x2="215" y2="722"/>
<line class="wh" x1="288" y1="697" x2="288" y2="850"/><rect class="bw" x="257" y="720" width="63" height="92"/><line class="md" x1="257" y1="775" x2="320" y2="775"/>
<line class="wh" x1="437" y1="760" x2="437" y2="832"/><rect class="bp" x="412" y="770" width="50" height="42"/><line class="md" x1="412" y1="787" x2="462" y2="787"/>
<line class="wh" x1="506" y1="650" x2="506" y2="725"/><rect class="bp" x="480" y="665" width="52" height="60"/><line class="md" x1="480" y1="680" x2="532" y2="680"/>
<line class="wh" x1="575" y1="562" x2="575" y2="800"/><rect class="bp" x="548" y="635" width="52" height="165"/><line class="md" x1="548" y1="720" x2="600" y2="720"/>
<line class="wh" x1="643" y1="183" x2="643" y2="677"/><rect class="bp" x="615" y="357" width="53" height="248"/><line class="md" x1="615" y1="533" x2="668" y2="533"/>
<line class="wh" x1="711" y1="700" x2="711" y2="815"/><rect class="bw" x="685" y="725" width="52" height="55"/><line class="md" x1="685" y1="775" x2="737" y2="775"/>
<line class="wh" x1="780" y1="790" x2="780" y2="840"/><rect class="bw" x="752" y="795" width="53" height="32"/><line class="md" x1="752" y1="803" x2="805" y2="803"/>
<line class="md" x1="822" y1="835" x2="875" y2="835"/>
<line class="wh" x1="917" y1="390" x2="917" y2="765"/><rect class="bw" x="890" y="460" width="52" height="258"/><line class="md" x1="890" y1="692" x2="942" y2="692"/>
<line class="wh" x1="985" y1="725" x2="985" y2="770"/><rect class="bw" x="958" y="752" width="47" height="18"/><line x1="958" y1="760" x2="1005" y2="760" stroke="#c8552a" stroke-width="8"/>
<g class="p">
<circle cx="183" cy="183" r="7.5"/><circle cx="180" cy="310" r="7.5"/><circle cx="165" cy="532" r="7.5"/><circle cx="205" cy="557" r="7.5"/><circle cx="168" cy="647" r="7.5"/><circle cx="178" cy="665" r="7.5"/><circle cx="208" cy="678" r="7.5"/><circle cx="175" cy="688" r="7.5"/><circle cx="198" cy="700" r="7.5"/><circle cx="205" cy="712" r="7.5"/><circle cx="210" cy="720" r="7.5"/><circle cx="165" cy="770" r="7.5"/><circle cx="180" cy="780" r="7.5"/><circle cx="185" cy="765" r="7.5"/><circle cx="197" cy="765" r="7.5"/><circle cx="165" cy="808" r="7.5"/><circle cx="175" cy="805" r="7.5"/><circle cx="200" cy="818" r="7.5"/><circle cx="172" cy="835" r="7.5"/><circle cx="212" cy="765" r="7.5"/><circle cx="190" cy="760" r="7.5"/>
<circle cx="420" cy="763" r="7.5"/><circle cx="445" cy="763" r="7.5"/><circle cx="455" cy="770" r="7.5"/><circle cx="440" cy="778" r="7.5"/><circle cx="418" cy="792" r="7.5"/><circle cx="430" cy="805" r="7.5"/><circle cx="460" cy="817" r="7.5"/><circle cx="425" cy="838" r="7.5"/>
<circle cx="487" cy="667" r="7.5"/><circle cx="500" cy="680" r="7.5"/><circle cx="528" cy="647" r="7.5"/><circle cx="532" cy="725" r="7.5"/><circle cx="517" cy="762" r="7.5"/>
<circle cx="563" cy="557" r="7.5"/><circle cx="570" cy="310" r="7.5"/><circle cx="575" cy="712" r="7.5"/><circle cx="585" cy="720" r="7.5"/><circle cx="563" cy="808" r="7.5"/><circle cx="580" cy="808" r="7.5"/><circle cx="597" cy="790" r="7.5"/>
<circle cx="620" cy="183" r="7.5"/><circle cx="665" cy="533" r="7.5"/><circle cx="628" cy="677" r="7.5"/>
</g>
<g class="g">
<circle cx="308" cy="390" r="7.5"/><circle cx="272" cy="460" r="7.5"/><circle cx="270" cy="690" r="7.5"/><circle cx="268" cy="700" r="7.5"/><circle cx="300" cy="710" r="7.5"/><circle cx="310" cy="722" r="7.5"/><circle cx="265" cy="717" r="7.5"/><circle cx="270" cy="762" r="7.5"/><circle cx="280" cy="770" r="7.5"/><circle cx="293" cy="780" r="7.5"/><circle cx="310" cy="768" r="7.5"/><circle cx="318" cy="762" r="7.5"/><circle cx="273" cy="790" r="7.5"/><circle cx="285" cy="795" r="7.5"/><circle cx="300" cy="800" r="7.5"/><circle cx="268" cy="835" r="7.5"/><circle cx="290" cy="835" r="7.5"/><circle cx="305" cy="833" r="7.5"/><circle cx="318" cy="830" r="7.5"/><circle cx="310" cy="850" r="7.5"/><circle cx="282" cy="760" r="7.5"/>
<circle cx="697" cy="700" r="7.5"/><circle cx="712" cy="710" r="7.5"/><circle cx="690" cy="818" r="7.5"/><circle cx="725" cy="773" r="7.5"/><circle cx="700" cy="775" r="7.5"/>
<circle cx="760" cy="795" r="7.5"/><circle cx="800" cy="780" r="7.5"/><circle cx="782" cy="800" r="7.5"/><circle cx="795" cy="838" r="7.5"/><circle cx="770" cy="810" r="7.5"/>
<circle cx="827" cy="852" r="7.5"/><circle cx="840" cy="830" r="7.5"/><circle cx="858" cy="835" r="7.5"/><circle cx="870" cy="835" r="7.5"/>
<circle cx="905" cy="390" r="7.5"/><circle cx="935" cy="460" r="7.5"/><circle cx="930" cy="692" r="7.5"/><circle cx="922" cy="717" r="7.5"/><circle cx="908" cy="768" r="7.5"/>
<circle cx="987" cy="725" r="7.5"/><circle cx="965" cy="773" r="7.5"/><circle cx="988" cy="770" r="7.5"/>
</g>
</g>
</svg>
</body></html>
